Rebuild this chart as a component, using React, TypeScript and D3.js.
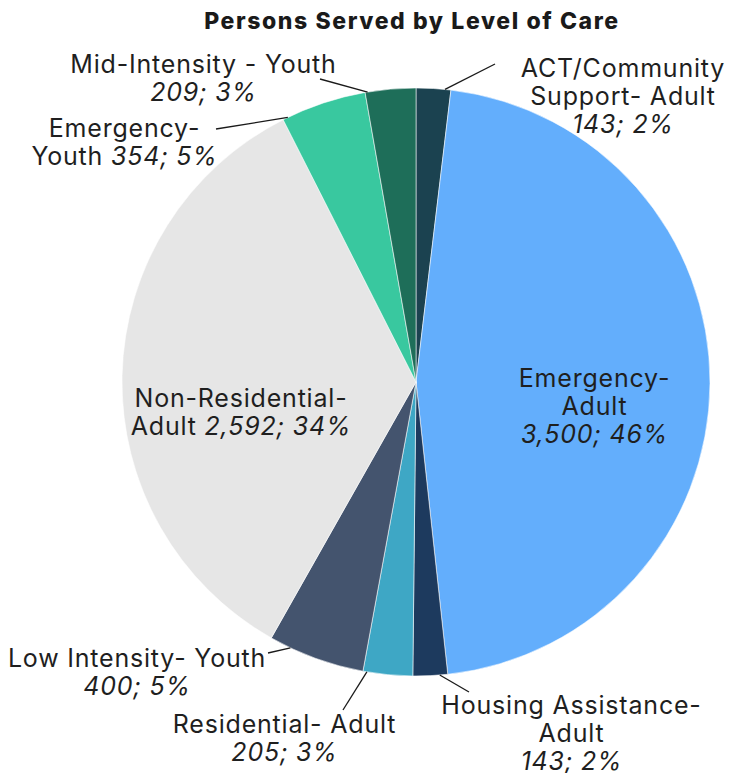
import { useMemo } from "react";
import * as d3 from "d3";

const CATEGORIES = [
  "ACT/Community Support- Adult",
  "Emergency- Adult",
  "Housing Assistance- Adult",
  "Residential- Adult",
  "Low Intensity- Youth",
  "Non-Residential- Adult",
  "Emergency- Youth",
  "Mid-Intensity - Youth",
];
const VALUES = [143, 3500, 143, 205, 400, 2592, 354, 209];
const COLORS = ["#1b4250", "#63aefc", "#1d3a5e", "#3ea7c5", "#44546e", "#e6e6e6", "#39c89f", "#1e6e59"];

// label layout: text lines, x = center of text, y = first baseline (both relative to pie center)
// leader: t = position along the slice arc, end = outer end of leader relative to center
type Line = { plain: string; italic?: string };
const LAYOUT: { lines: Line[]; x: number; y: number; t?: number; end?: [number, number] }[] = [
  { lines: [{ plain: "ACT/Community" }, { plain: "Support- Adult" }, { plain: "", italic: "143; 2%" }], x: 207, y: -305, t: 0.83, end: [79, -318] },
  { lines: [{ plain: "Emergency-" }, { plain: "Adult" }, { plain: "", italic: "3,500; 46%" }], x: 178.5, y: 5 },
  { lines: [{ plain: "Housing Assistance-" }, { plain: "Adult" }, { plain: "", italic: "143; 2%" }], x: 155.5, y: 332, t: 0.23, end: [53, 310] },
  { lines: [{ plain: "Residential- Adult" }, { plain: "", italic: "205; 3%" }], x: -131.5, y: 351, t: 0.92, end: [-73, 328] },
  { lines: [{ plain: "Low Intensity- Youth" }, { plain: "", italic: "400; 5%" }], x: -279, y: 285, t: 0.78, end: [-148, 271] },
  { lines: [{ plain: "Non-Residential-" }, { plain: "Adult ", italic: "2,592; 34%" }], x: -175, y: 25 },
  { lines: [{ plain: "Emergency-" }, { plain: "Youth ", italic: "354; 5%" }], x: -291.5, y: -245, t: 0.06, end: [-200, -253] },
  { lines: [{ plain: "Mid-Intensity - Youth" }, { plain: "", italic: "209; 3%" }], x: -212.5, y: -309, t: 0.05, end: [-96, -303] },
];

const W = 734;
const H = 773;
const CX = 416;
const CY = 382;
const R = 294;
const FONT = "Inter, 'Noto Sans', sans-serif";
const LINE_H = 28;

export default function App() {
  const arcs = useMemo(
    () => d3.pie<number>().sort(null).value((d) => d)(VALUES),
    []
  );
  const arc = d3.arc<d3.PieArcDatum<number>>().innerRadius(0).outerRadius(R);

  return (
    <svg width={W} height={H} style={{ position: "absolute", left: 0, top: 0 }}>
      <rect width={W} height={H} fill="#fff" />
      <text x={412} y={29} textAnchor="middle" fontFamily={FONT} fontWeight={800} fontSize={23} letterSpacing={1.6} fill="#1a1a1a">
        Persons Served by Level of Care
      </text>
      <g transform={`translate(${CX},${CY})`}>
        {arcs.map((a, i) => (
          <path key={CATEGORIES[i]} d={arc(a) ?? ""} fill={COLORS[i]} stroke="#ffffff" strokeOpacity={0.55} strokeWidth={1} />
        ))}
        {arcs.map((a, i) => {
          const L = LAYOUT[i];
          if (L.t === undefined || !L.end) return null;
          const ang = a.startAngle + L.t * (a.endAngle - a.startAngle);
          const px = R * Math.sin(ang);
          const py = -R * Math.cos(ang);
          return (
            <line key={"l" + i} x1={px} y1={py} x2={L.end[0]} y2={L.end[1]} stroke="#1a1a1a" strokeWidth={1.3} />
          );
        })}
        {LAYOUT.map((L, i) => (
          <text key={"t" + i} textAnchor="middle" fontFamily={FONT} fontSize={25} letterSpacing={0.8} fill="#1f1f1f">
            {L.lines.map((ln, j) => (
              <tspan key={j} x={L.x} y={L.y + j * LINE_H}>
                {ln.plain}
                {ln.italic ? <tspan fontStyle="italic">{ln.italic}</tspan> : null}
              </tspan>
            ))}
          </text>
        ))}
      </g>
    </svg>
  );
}
